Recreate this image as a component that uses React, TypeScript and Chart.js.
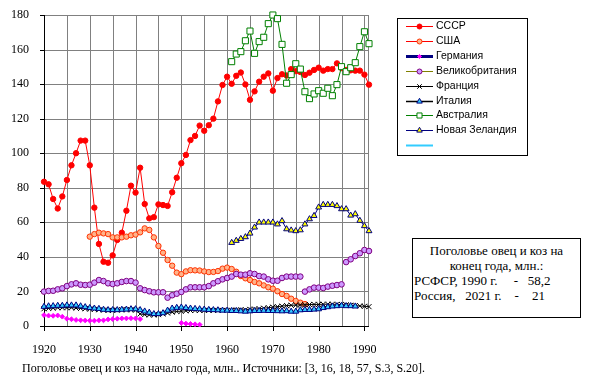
import React, { useEffect, useRef, useState } from 'react';
import { Chart, registerables } from 'chart.js';
import { drawPoint } from 'chart.js/helpers';

Chart.register(...registerables);

const N = null;

const years: number[] = Array.from({ length: 72 }, (_, i) => 1920 + i);
const tickYears = [1920, 1925, 1930, 1935, 1940, 1945, 1950, 1955, 1960, 1965, 1970, 1975, 1980, 1985, 1990];
const labelYears = [1920, 1930, 1940, 1950, 1960, 1970, 1980, 1990];
const yTicks = [0, 20, 40, 60, 80, 100, 120, 140, 160, 180];

const seriesNames = ['СССР', 'США', 'Германия', 'Великобритания', 'Франция', 'Италия', 'Австралия', 'Новая Зеландия', ''];

const ussr = [
  83.5, 82, 73.5, 68, 75, 84.5, 93, 100, 107.3, 107.3,
  93, 68.5, 47.5, 37.2, 36.6, 40.9, 49.8, 54, 66.7, 81.2,
  77.2, 91.6, 70.6, 62.3, 63, 70.4, 70, 69.5, 77.4, 85.8,
  94.2, 99, 107.6, 110, 116, 113, 116.2, 120, 130, 139.5,
  144.3, 140.2, 144.8, 146.7, 139.8, 130.9, 135.8, 141.4, 144.3, 146.2,
  136.2, 143.5, 145.7, 145, 148.7, 147.5, 147, 145.3, 146.6, 148.2,
  149.5, 147.8, 148.7, 148.7, 152, 149.3, 148.2, 148, 147.8, 147.8,
  145.5, 139.7,
];

const usa = [
  N, N, N, N, N, N, N, N, N, N,
  51.7, 53.2, 54, 53.6, 53.2, 51.3, 51.3, 51.3, 51.7, 52.5,
  52.9, 54.2, 56.5, 55.6, 51.3, 46.3, 42.4, 38.2, 34.9, 30.9,
  30, 31.6, 32.3, 32.2, 32.1, 31.6, 31.2, 31.3, 31.8, 33.2,
  33.8, 33, 31.4, 28.9, 27.6, 26.6, 25.5, 24.7, 23.5, 22.4,
  21.6, 20.1, 18.5, 17.4, 15.8, 14.5, 13.5, 12.7, N, N,
  N, N, N, N, N, N, N, N, N, N,
  N, N,
];

const germany = [
  6.3, 6, 5.9, 6.1, 5.4, 4.2, 3.9, 3.5, 3.3, 3.2,
  3.1, 3.1, 3.3, 3.3, 3.8, 4, 4.2, 4.4, 4.4, 4.5,
  4.4, 4.0, N, N, N, N, N, N, N, N,
  1.8, 1.4, 1.2, 1.0, 0.8, N, N, N, N, N,
  N, N, N, N, N, N, N, N, N, N,
  N, N, N, N, N, N, N, N, N, N,
  N, N, N, N, N, N, N, N, N, N,
  N, N,
];

const britain = [
  19.9, 20.3, 20.4, 21.2, 21.8, 23.1, 24.1, 24.7, 23.9, 23.7,
  23.9, 25.1, 26.6, 26, 24.7, 24.3, 24.7, 25.5, 26, 26,
  25.1, 21.8, 20.8, 20.1, 19.5, 19.5, 19.5, 16.4, 17.8, 18.7,
  19.7, 21.2, 22.4, 22.4, 22.4, 22.4, 23.1, 24.7, 25.9, 27,
  27.8, 28.6, 30.1, 29.7, 29.7, 30.5, 30.1, 28.9, 28.6, 27,
  26.2, 26.2, 27.8, 28.6, 28.6, 28.6, 28.6, 19.9, 21.2, 22.2,
  22.2, 22, 22.8, 23.3, 23.7, 24.1, 37, 38.6, 40.5, 42.1,
  44, 43.4,
];

const france = [
  10, 10.2, 10.4, 10.6, 10.6, 10.6, 10.6, 10.4, 10.2, 10,
  9.8, 9.6, 9.4, 9.2, 9, 9, 9.2, 9.4, 9.4, 9.4,
  9.2, 7, 6.6, 6.4, 6.4, 6.6, 7, 7.5, 8, 8.4,
  8.6, 8.8, 9, 9, 9, 9, 9, 9, 9, 9,
  9, 9.1, 9.2, 9.3, 9.4, 9.6, 9.8, 10, 10.3, 10.6,
  10.9, 11.2, 11.5, 11.8, 12, 12.1, 12.2, 12.3, 12.4, 12.5,
  12.5, 12.6, 12.6, 12.6, 12.5, 12.4, 12.2, 12, 11.8, 11.6,
  11.4, 11.2,
];

const italy = [
  11.2, 11.5, 11.6, 11.8, 11.8, 12, 12, 12, 11.5, 11,
  10.5, 10.2, 10, 9.5, 9.3, 9.3, 9.3, 9.5, 9.6, 9.8,
  9.8, 9.3, 8.5, 7.8, 7, 7, 7.5, 9, 10.2, 10.6,
  10.8, 10.5, 10.2, 10, 9.8, 9.6, 9.4, 9.3, 9.2, 9,
  9, 8.8, 8.8, 8.6, 8.4, 8.6, 8.8, 8.8, 8.9, 8.8,
  8.8, 8.7, 8.6, 8.7, 8.4, 8.4, 9.2, 9.4, 9.4, 9.6,
  9.8, 10.5, 11, 11.4, 11.6, 11.8, 11.6, 11.6, 11.4, N,
  N, N,
];

const australia = [
  N, N, N, N, N, N, N, N, N, N,
  N, N, N, N, N, N, N, N, N, N,
  N, N, N, N, N, N, N, N, N, N,
  N, N, N, N, N, N, N, N, N, N,
  N, 153, 157.4, 158.8, 165.1, 170.7, 157.8, 164.6, 167.1, 175,
  180, 177.9, 163, 140.5, 145.5, 151.8, 148.7, 135.6, 131.6, 134.3,
  136.2, 134.7, 137.6, 133.3, 139.7, 150.1, 147.2, 149.5, 152.4, 161.7,
  170.3, 163.4,
];

const newZealand = [
  N, N, N, N, N, N, N, N, N, N,
  N, N, N, N, N, N, N, N, N, N,
  N, N, N, N, N, N, N, N, N, N,
  N, N, N, N, N, N, N, N, N, N,
  N, 48.2, 49.4, 50.5, 51.5, 53.6, 57.1, 60, 60, 60,
  60, 58.9, 60.8, 56.1, 55.4, 55, 55.5, 58.9, 61.9, 63.8,
  68.7, 70.2, 70.2, 70.2, 69.5, 67.7, 67.7, 64, 64.8, 61,
  57.9, 55,
];

const serif = "'Liberation Serif', 'Times New Roman', serif";
const sans = "'Liberation Sans', Arial, sans-serif";

type Sty = {
  line: string; lw: number; showLine: boolean;
  ps: any; r: number; fill: string; stroke: string; lr: number;
};

const styles: Sty[] = [
  { line: '#FF0000', lw: 1, showLine: true, ps: 'circle', r: 2.7, fill: '#FF0000', stroke: '#FF0000', lr: 2.5 },
  { line: '#FF0000', lw: 1, showLine: true, ps: 'circle', r: 2.7, fill: '#FFB38A', stroke: '#FF3300', lr: 2.5 },
  { line: '#000080', lw: 3, showLine: false, ps: 'rectRot', r: 2.4, fill: '#FF00FF', stroke: '#FF00FF', lr: 2 },
  { line: '#808000', lw: 1, showLine: false, ps: 'circle', r: 2.8, fill: '#CC99FF', stroke: '#800080', lr: 2.5 },
  { line: '#000000', lw: 1, showLine: true, ps: 'crossRot', r: 3.6, fill: '#000000', stroke: '#000000', lr: 3.2 },
  { line: '#000000', lw: 1.5, showLine: true, ps: 'triangle', r: 3.4, fill: '#33CCFF', stroke: '#000080', lr: 3.2 },
  { line: '#008000', lw: 1, showLine: true, ps: 'rect', r: 4.3, fill: '#FFFFFF', stroke: '#008000', lr: 3.6 },
  { line: '#000080', lw: 1, showLine: true, ps: 'triangle', r: 3.4, fill: '#FFFF00', stroke: '#000080', lr: 3.2 },
  { line: '#33CCFF', lw: 2, showLine: true, ps: 'line', r: 0, fill: '#33CCFF', stroke: '#33CCFF', lr: 0 },
];

const seriesData = [ussr, usa, germany, britain, france, italy, australia, newZealand];

const legendPlugin = {
  id: 'customLegend',
  afterDraw(chart: any) {
    const ctx = chart.ctx as CanvasRenderingContext2D;
    ctx.save();
    ctx.fillStyle = '#FFFFFF';
    ctx.fillRect(397, 18, 130, 137);
    ctx.strokeStyle = '#000000';
    ctx.lineWidth = 1;
    ctx.strokeRect(397.5, 18.5, 130, 137);
    seriesNames.forEach((name, i) => {
      const s = styles[i];
      const y = Math.round(26 + i * 14.9) + 0.5;
      ctx.strokeStyle = s.line;
      ctx.lineWidth = s.lw;
      ctx.beginPath();
      ctx.moveTo(406, y);
      ctx.lineTo(433, y);
      ctx.stroke();
      if (s.lr > 0) {
        ctx.fillStyle = s.fill;
        ctx.strokeStyle = s.stroke;
        ctx.lineWidth = 1;
        drawPoint(ctx, { pointStyle: s.ps, radius: s.lr, borderWidth: 1, rotation: 0 } as any, 419.5, y);
      }
      ctx.fillStyle = '#000000';
      ctx.font = `10.5px ${sans}`;
      ctx.textBaseline = 'middle';
      ctx.textAlign = 'left';
      ctx.fillText(name, 436, y);
    });
    ctx.restore();
  },
};

type Frame = { L: number; R: number; T: number; B: number; vx: number[]; hy: number[]; lx: number[] };

const fin = (v: any) => typeof v === 'number' && isFinite(v);

export default function App() {
  const ref = useRef<HTMLCanvasElement | null>(null);
  const [frame, setFrame] = useState<Frame | null>(null);

  useEffect(() => {
    if (!ref.current) return;
    const datasets = seriesData.map((d, i) => {
      const s = styles[i];
      return {
        label: seriesNames[i],
        data: d,
        borderColor: s.line,
        borderWidth: s.lw,
        showLine: s.showLine,
        pointStyle: s.ps,
        pointRadius: s.r,
        pointBackgroundColor: s.fill,
        pointBorderColor: s.stroke,
        pointBorderWidth: 1,
        tension: 0,
        fill: false,
        clip: 6,
        order: 20 - i,
      };
    });
    const chart = new Chart(ref.current, {
      type: 'line',
      data: { labels: years, datasets },
      options: {
        animation: false,
        responsive: false,
        devicePixelRatio: 1,
        layout: { padding: { left: 0, top: 15, right: 221, bottom: 0 } },
        plugins: { legend: { display: false }, tooltip: { enabled: false } },
        scales: {
          x: {
            type: 'linear',
            min: 1920,
            max: 1991,
            afterBuildTicks: (s: any) => { s.ticks = labelYears.map((v) => ({ value: v })); },
            afterFit: (s: any) => { s.height = 55; },
            ticks: {
              autoSkip: false,
              maxRotation: 0,
              padding: 9,
              color: '#000',
              font: { family: serif, size: 12 },
              callback: (v: any) => String(v),
            },
            grid: { display: false },
            border: { display: false },
          },
          y: {
            type: 'linear',
            min: 0,
            max: 180,
            afterBuildTicks: (s: any) => { s.ticks = yTicks.map((v) => ({ value: v })); },
            afterFit: (s: any) => { s.width = 44; },
            ticks: {
              padding: 7,
              color: '#000',
              font: { family: serif, size: 12 },
              callback: (v: any) => String(v),
            },
            grid: { display: false },
            border: { display: false },
          },
        },
      },
      plugins: [legendPlugin],
    });

    // Grid / axis geometry.
    const xs: any = chart.scales.x;
    const ys: any = chart.scales.y;
    const L = fin(xs.left) ? xs.left : 44;
    const R = fin(xs.right) ? xs.right : 369;
    const T = fin(ys.top) ? ys.top : 15;
    const B = fin(ys.bottom) ? ys.bottom : 326;
    const px = (v: number) => {
      const p = xs.getPixelForValue(v);
      return fin(p) ? p : L + ((v - 1920) / 71) * (R - L);
    };
    const py = (v: number) => {
      const p = ys.getPixelForValue(v);
      return fin(p) ? p : B - (v / 180) * (B - T);
    };
    setFrame({
      L: Math.round(L),
      R: Math.round(R) - 1,
      T: Math.round(T),
      B: Math.round(B),
      vx: tickYears.map((v) => Math.round(px(v))),
      hy: yTicks.map((v) => Math.round(py(v))),
      lx: labelYears.map((v) => Math.round(px(v))),
    });
    return () => chart.destroy();
  }, []);

  const abs = (left: number, top: number, width: number, height: number, bg: string) => ({
    position: 'absolute' as const, left, top, width, height, background: bg,
  });

  return (
    <div style={{ position: 'absolute', left: 0, top: 0, width: 590, height: 381, background: '#fff' }}>
      {frame && (
        <>
          {frame.vx.map((x, i) => (
            <div key={'v' + i} style={abs(x, frame.T, 1, frame.B - frame.T, '#808080')} />
          ))}
          {frame.hy.map((y, i) => (
            <div key={'h' + i} style={abs(frame.L, y, frame.R - frame.L + 1, 1, '#808080')} />
          ))}
          <div style={abs(frame.R, frame.T, 1, frame.B - frame.T, '#808080')} />
          {frame.hy.map((y, i) => (
            <div key={'yt' + i} style={abs(frame.L - 4, y, 4, 1, '#000')} />
          ))}
          {frame.lx.map((x, i) => (
            <div key={'xt' + i} style={abs(x, frame.B + 1, 1, 4, '#000')} />
          ))}
          <div style={abs(frame.L, frame.T, 1, frame.B - frame.T + 1, '#000')} />
          <div style={abs(frame.L, frame.B, frame.R - frame.L + 1, 1, '#000')} />
        </>
      )}
      <canvas ref={ref} width={590} height={381} style={{ position: 'absolute', left: 0, top: 0 }} />
      <div
        style={{
          position: 'absolute', left: 412, top: 238, width: 167, height: 74,
          border: '1px solid #000', background: '#fff',
          fontFamily: serif, fontSize: 13, lineHeight: '15px', color: '#000',
          paddingTop: 4, boxSizing: 'content-box',
        }}
      >
        <div style={{ textAlign: 'center' }}>Поголовье овец и коз на</div>
        <div style={{ textAlign: 'center' }}>конец года, млн.:</div>
        <div style={{ whiteSpace: 'pre', paddingLeft: 1 }}>РСФСР, 1990 г.     -   58,2</div>
        <div style={{ whiteSpace: 'pre', paddingLeft: 1 }}>Россия,   2021 г.    -    21</div>
      </div>
      <div
        style={{
          position: 'absolute', left: 22, top: 361, fontFamily: serif, fontSize: 12,
          lineHeight: '14px', color: '#000', whiteSpace: 'nowrap',
        }}
      >
        Поголовье овец и коз на начало года, млн.. Источники: [3, 16, 18, 57, S.3, S.20].
      </div>
    </div>
  );
}
